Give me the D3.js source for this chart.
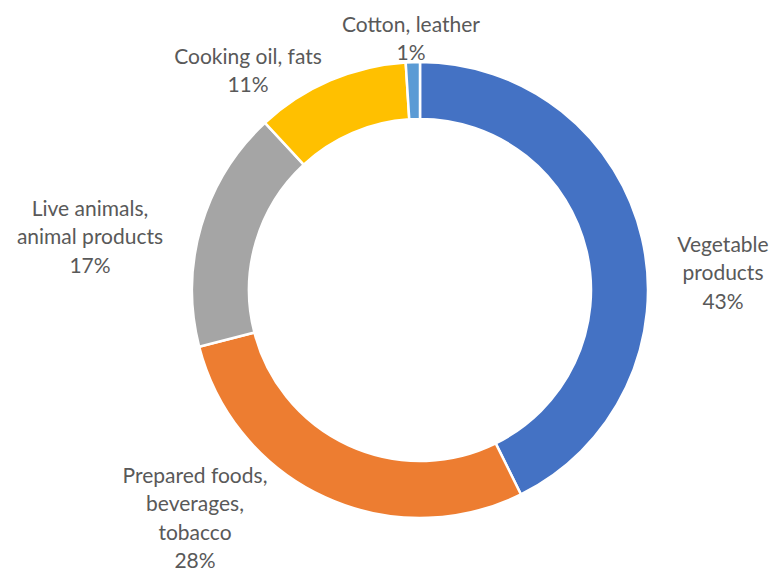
<!DOCTYPE html>
<html><head><meta charset="utf-8">
<script src="https://cdn.jsdelivr.net/npm/d3@7"></script>
<style>body{margin:0;background:#fff}svg{display:block}</style>
</head><body>
<svg id="c" width="776" height="571"></svg>
<script>
const categories = ["Vegetable products", "Prepared foods, beverages, tobacco", "Live animals, animal products", "Cooking oil, fats", "Cotton, leather"];
const values = [42.7, 28.3, 17.1, 10.9, 1.0];
const labelLines = [["Vegetable", "products"], ["Prepared foods,", "beverages,", "tobacco"], ["Live animals,", "animal products"], ["Cooking oil, fats"], ["Cotton, leather"]];
const colors = ["#4472C4", "#ED7D31", "#A5A5A5", "#FFC000", "#5B9BD5"];

// layout (label centre x, first-line centre y)
const labelLayout = [[723, 243], [195, 474], [90, 207], [248, 55], [411, 23]];

const svg = d3.select("#c");
const cx = 420, cy = 290, R = 228, r = 171;
const g = svg.append("g").attr("transform", `translate(${cx},${cy})`);
const pie = d3.pie().sort(null).value(d => d)(values);
const arc = d3.arc().innerRadius(r).outerRadius(R);
g.selectAll("path").data(pie).join("path")
  .attr("d", arc)
  .attr("fill", (d, i) => colors[i])
  .attr("stroke", "#fff").attr("stroke-width", 2.5);

const total = d3.sum(values);
const lh = 28.3;
const lab = svg.append("g").attr("font-family", "Lato, 'Open Sans', sans-serif").attr("font-size", 21).attr("fill", "#595959").attr("text-anchor", "middle");
pie.forEach((d, i) => {
  const lines = labelLines[i].concat([Math.round(values[i] / total * 100) + "%"]);
  const [x, y] = labelLayout[i];
  const t = lab.append("text").attr("x", x).attr("y", y).attr("dominant-baseline", "central");
  lines.forEach((s, j) => t.append("tspan").attr("x", x).attr("y", y + j * lh).text(s));
});
</script>
</body></html>
